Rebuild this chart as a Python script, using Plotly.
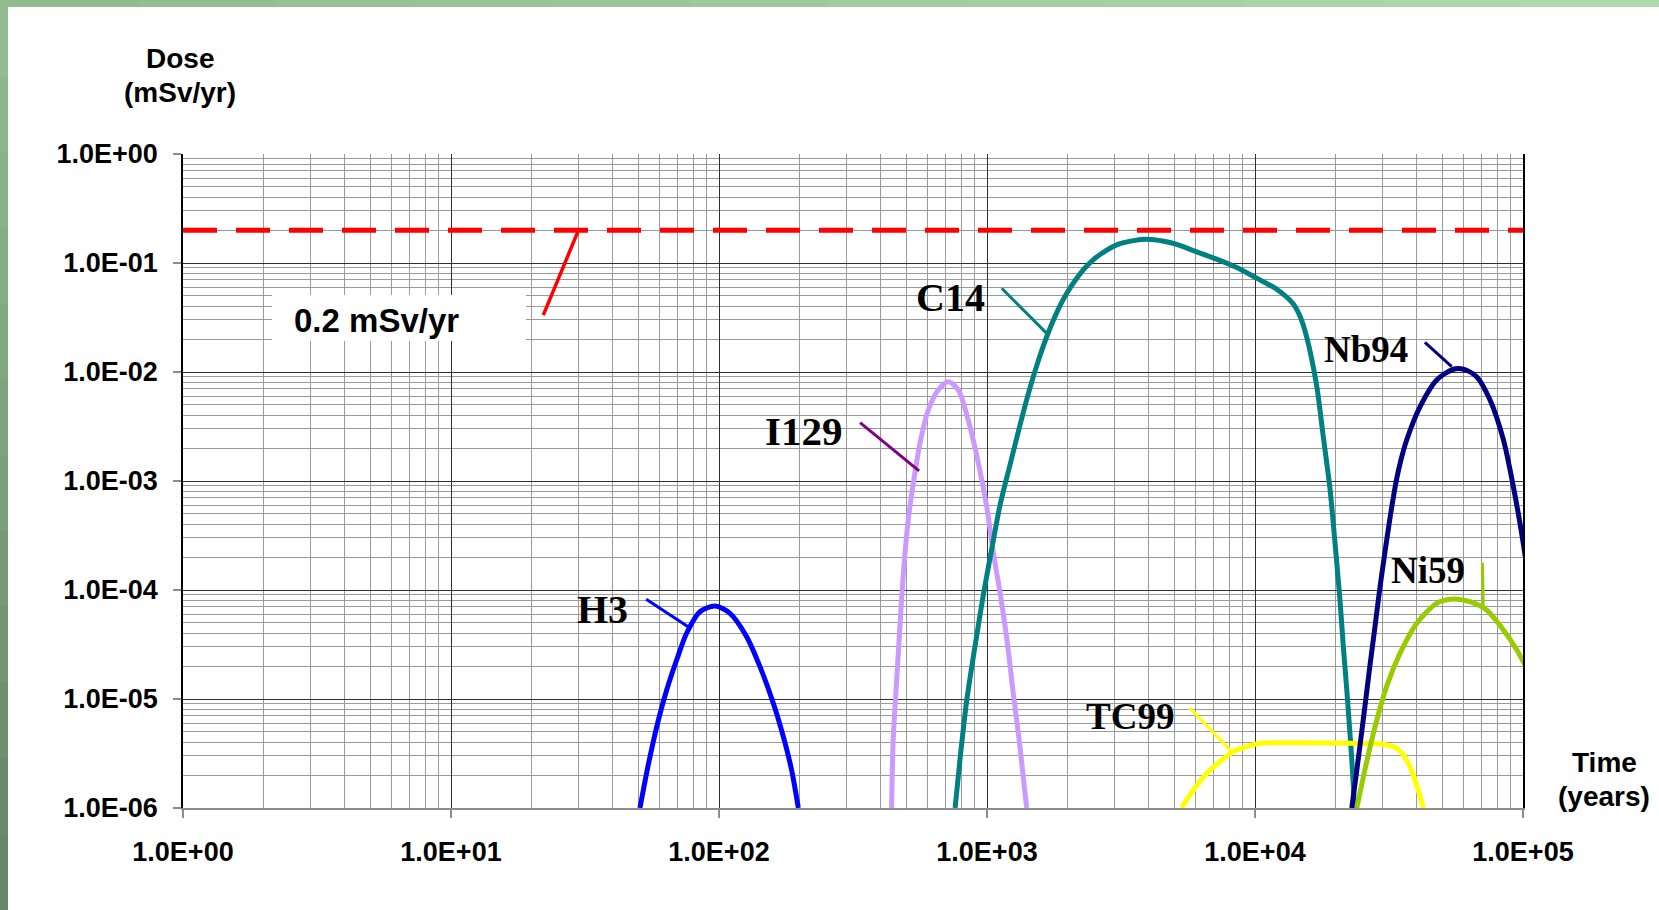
import plotly.graph_objects as go

# ---------------- data (time in years, dose in mSv/yr) ----------------
h3_time = [50.7, 54.5, 59.4, 63.8, 69.5, 75.7, 84.9, 96.6, 109.9, 126.8, 142.2, 159.6, 173.8, 186.6, 197.7]
h3_dose = [1.0e-6, 2.51e-6, 6.41e-6, 1.21e-5, 2.28e-5, 4.01e-5, 6.32e-5, 7.13e-5, 6.11e-5, 3.73e-5,
           1.98e-5, 9.1e-6, 4.51e-6, 2.23e-6, 1.0e-6]

i129_time = [440.6, 446.7, 460.3, 473.2, 487.5, 508.2, 530.9, 562.3, 603.9, 657.7, 717.8, 781.6, 851.1,
             929.0, 997.7, 1056.8, 1119.4, 1183.0, 1253.1, 1327.4, 1406.0]
i129_dose = [1.0e-6, 4.21e-6, 1.49e-5, 4.60e-5, 1.42e-4, 4.39e-4, 9.53e-4, 2.22e-3, 4.48e-3, 6.84e-3,
             8.15e-3, 6.84e-3, 3.63e-3, 1.45e-3, 5.81e-4, 2.17e-4, 9.33e-5, 3.73e-5, 1.13e-5, 3.66e-6, 1.0e-6]

c14_time = [760.3, 792.5, 839.5, 901.6, 968.3, 1042, 1119, 1219, 1327, 1445, 1567, 1698, 1841, 1982, 2286,
            2495, 2799, 3048, 3516, 3945, 4571, 5105, 6026, 7194, 8511, 10140, 12050, 13900, 14790, 15600,
            16980, 17990, 19050, 19910, 20750, 21380, 21980, 22590, 22960, 23280, 23550]
c14_dose = [1e-6, 2.75e-6, 9.55e-6, 3.02e-5, 8.91e-5, 2.40e-4, 6.03e-4, 1.41e-3, 3.24e-3, 7.08e-3, 1.35e-2,
            2.34e-2, 3.72e-2, 5.25e-2, 8.63e-2, 0.1074, 0.1315, 0.1469, 0.1603, 0.1652, 0.1585, 0.1479,
            0.1274, 0.1084, 0.0912, 0.0726, 0.0575, 0.0421, 0.0316, 0.0208, 0.00753, 0.00252, 8.45e-4,
            2.62e-4, 8.09e-5, 2.94e-5, 1.26e-5, 5.0e-6, 2.82e-6, 1.58e-6, 1.0e-6]

tc99_time = [5321, 5888, 6607, 7396, 8299, 9311, 10440, 13520, 22590, 30130, 33810, 36810, 39540, 42460]
tc99_dose = [1.0e-6, 1.46e-6, 2.08e-6, 2.66e-6, 3.29e-6, 3.66e-6, 3.92e-6, 3.97e-6, 3.92e-6, 3.84e-6,
             3.53e-6, 2.75e-6, 1.81e-6, 1.0e-6]

nb94_time = [22960, 23990, 25350, 26730, 27990, 29170, 30550, 31990, 33650, 35080, 36810, 41300, 47640,
             54950, 59980, 67140, 75340, 84530, 92050, 98850, 103300]
nb94_dose = [1.0e-6, 2.24e-6, 6.46e-6, 1.86e-5, 4.47e-5, 1.0e-4, 2.24e-4, 4.79e-4, 1.0e-3, 1.58e-3,
             2.38e-3, 4.81e-3, 8.45e-3, 1.06e-2, 1.06e-2, 9.06e-3, 5.53e-3, 2.38e-3, 8.87e-4, 3.31e-4, 1.64e-4]

ni59_time = [23990, 25700, 28050, 30970, 34750, 40090, 47640, 54950, 63390, 73110, 84530, 94840, 103300]
ni59_dose = [1.0e-6, 2.23e-6, 5.57e-6, 1.30e-5, 2.62e-5, 4.94e-5, 7.55e-5, 8.26e-5, 7.82e-5, 6.56e-5,
             4.30e-5, 2.82e-5, 1.91e-5]

limit_time = [1, 1e5]
limit_dose = [0.2, 0.2]

x_tick_vals = [1, 10, 100, 1000, 10000, 100000]
x_tick_text = ["1.0E+00", "1.0E+01", "1.0E+02", "1.0E+03", "1.0E+04", "1.0E+05"]
y_tick_vals = [1e-6, 1e-5, 1e-4, 1e-3, 1e-2, 1e-1, 1]
y_tick_text = ["1.0E-06", "1.0E-05", "1.0E-04", "1.0E-03", "1.0E-02", "1.0E-01", "1.0E+00"]

# label / leader-line callouts (time, dose)
callouts = {
    "H3":   dict(color="#0000FF", x=[53.5, 76.7], y=[8.22e-5, 4.6e-5]),
    "I129": dict(color="#800080", x=[336, 558], y=[3.43e-3, 1.24e-3]),
    "C14":  dict(color="#008080", x=[1135, 1671], y=[5.86e-2, 2.26e-2]),
    "Nb94": dict(color="#000080", x=[43050, 54200], y=[1.87e-2, 1.12e-2]),
    "Ni59": dict(color="#99CC00", x=[70600, 71100], y=[1.78e-4, 6.8e-5]),
    "TC99": dict(color="#FFFF00", x=[5715, 8185], y=[8.22e-6, 3.29e-6]),
    "limit": dict(color="#FF0000", x=[29.9, 22.1], y=[0.2, 0.0333]),
}
label_pos = {  # log10(time), log10(dose), font size
    "H3": (1.565, -4.183, 40), "I129": (2.316, -2.541, 41), "C14": (2.862, -1.321, 40),
    "Nb94": (4.414, -1.798, 37), "Ni59": (4.646, -3.817, 37), "TC99": (3.535, -5.156, 37),
}
box_x = [2.148, 19.05, 19.05, 2.148, 2.148]
box_y = [0.0508, 0.0508, 0.01923, 0.01923, 0.0508]

# ---------------- figure ----------------
W, H = 1659, 910
L, R, T, B = 183, 136, 154, 102
PW, PH = W - L - R, H - T - B

fig = go.Figure()

fig.add_trace(go.Scatter(x=box_x, y=box_y, mode="lines", fill="toself", fillcolor="white",
                         line=dict(width=0, color="white"), hoverinfo="skip", showlegend=False))
fig.add_trace(go.Scatter(x=limit_time, y=limit_dose, mode="lines",
                         line=dict(color="#FF0000", width=5, dash="34px,19px"), showlegend=False))

series = [
    ("H3", h3_time, h3_dose, "#0000FF"),
    ("I129", i129_time, i129_dose, "#CC99FF"),
    ("C14", c14_time, c14_dose, "#008080"),
    ("TC99", tc99_time, tc99_dose, "#FFFF00"),
    ("Nb94", nb94_time, nb94_dose, "#000080"),
    ("Ni59", ni59_time, ni59_dose, "#99CC00"),
]
for name, xs, ys, col in series:
    fig.add_trace(go.Scatter(x=xs, y=ys, mode="lines", name=name,
                             line=dict(color=col, width=5, shape="spline", smoothing=0.8),
                             showlegend=False))

for name, c in callouts.items():
    fig.add_trace(go.Scatter(x=c["x"], y=c["y"], mode="lines",
                             line=dict(color=c["color"], width=3.5 if name == "limit" else 3),
                             showlegend=False, hoverinfo="skip"))

annotations = []
for name, (lx, ly, fs) in label_pos.items():
    annotations.append(dict(x=lx, y=ly, xref="x", yref="y", text=name, showarrow=False,
                            font=dict(family="Liberation Serif, Times New Roman, serif", size=fs,
                                      color="black", weight="bold")))
annotations.append(dict(x=0.722, y=-1.528, xref="x", yref="y", text="0.2 mSv/yr", showarrow=False,
                        font=dict(family="Liberation Sans, Arial, sans-serif", size=33, color="black",
                                  weight="bold")))


def px(X):
    return (X - L) / PW


def py(Y):
    return (H - B - Y) / PH


tick_font = dict(family="Liberation Sans, Arial, sans-serif", size=27, color="black", weight="bold")
title_font = dict(family="Liberation Sans, Arial, sans-serif", size=28, color="black", weight="bold")
for txt, X, Y in [("Dose", 180, 58), ("(mSv/yr)", 180, 93), ("Time", 1604, 762), ("(years)", 1604, 796)]:
    annotations.append(dict(x=px(X), y=py(Y), xref="paper", yref="paper", text=txt, showarrow=False,
                            xanchor="center", yanchor="middle", font=title_font))

# green frame (top and left bars, approximated gradient)
shapes = []
n = 12
for i in range(n):
    t = i / (n - 1)
    r = int(0x8f + (0xb0 - 0x8f) * t)
    g = int(0xbc + (0xda - 0xbc) * t)
    b = int(0x8f + (0xae - 0x8f) * t)
    shapes.append(dict(type="rect", xref="paper", yref="paper", layer="above",
                       x0=px(W * i / n), x1=px(W * (i + 1) / n + 1), y0=py(7), y1=py(0),
                       fillcolor=f"rgb({r},{g},{b})", line=dict(width=0)))
for i in range(n):
    t = i / (n - 1)
    r = int(0x92 + (0x68 - 0x92) * t)
    g = int(0xbc + (0x86 - 0xbc) * t)
    b = int(0x92 + (0x68 - 0x92) * t)
    shapes.append(dict(type="rect", xref="paper", yref="paper", layer="above",
                       x0=px(0), x1=px(8), y0=py(H * (i + 1) / n + 1), y1=py(H * i / n),
                       fillcolor=f"rgb({r},{g},{b})", line=dict(width=0)))

x_minor = [k * 10 ** d for d in range(0, 5) for k in range(2, 10)]
y_minor = [k * 10.0 ** d for d in range(-6, 0) for k in range(2, 10)]

fig.update_layout(
    width=W, height=H,
    margin=dict(l=L, r=R, t=T, b=B, pad=0),
    paper_bgcolor="white", plot_bgcolor="white",
    annotations=annotations, shapes=shapes,
    xaxis=dict(type="log", range=[0, 5], tickmode="array", tickvals=x_tick_vals, ticktext=x_tick_text,
               showgrid=True, gridcolor="#303030", gridwidth=1, zeroline=False,
               showline=True, linecolor="#8c8c8c", linewidth=1.5, mirror=False,
               ticks="outside", ticklen=8, tickcolor="#8c8c8c", tickwidth=1.5,
               tickfont=tick_font, ticklabelstandoff=11,
               minor=dict(tickmode="array", tickvals=x_minor, showgrid=True, gridcolor="#9a9a9a",
                          gridwidth=1, ticks="")),
    yaxis=dict(type="log", range=[-6, 0], tickmode="array", tickvals=y_tick_vals, ticktext=y_tick_text,
               showgrid=True, gridcolor="#303030", gridwidth=1, zeroline=False,
               showline=True, linecolor="black", linewidth=1.5, mirror=True,
               ticks="outside", ticklen=8, tickcolor="#8c8c8c", tickwidth=1.5,
               tickfont=tick_font, ticklabelstandoff=10,
               minor=dict(tickmode="array", tickvals=y_minor, showgrid=True, gridcolor="#9a9a9a",
                          gridwidth=1, ticks="")),
)

fig.write_html("out.html", config={"displayModeBar": False},
               post_script="document.body.style.margin='0';document.body.style.overflow='hidden';")
